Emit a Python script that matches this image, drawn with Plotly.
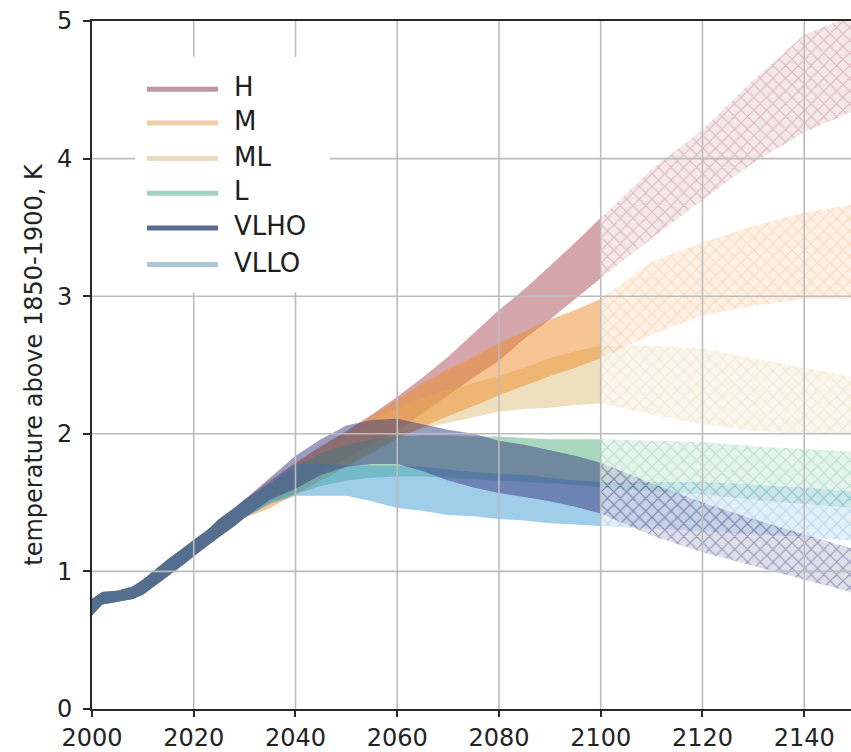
import plotly.graph_objects as go

# ---------------- data ----------------
HIST_YEARS = [2000, 2002, 2005, 2008, 2010, 2013, 2015, 2018, 2020, 2023, 2025, 2028, 2030]
HIST_LO = [0.68, 0.76, 0.78, 0.80, 0.83, 0.91, 0.97, 1.05, 1.11, 1.19, 1.25, 1.33, 1.39]
HIST_HI = [0.80, 0.85, 0.86, 0.89, 0.94, 1.03, 1.09, 1.17, 1.23, 1.31, 1.38, 1.46, 1.52]

PROJ_YEARS = [2035, 2040, 2045, 2050, 2055, 2060, 2065, 2070, 2075, 2080, 2085, 2090, 2095, 2100]
H_LO = [1.52, 1.62, 1.72, 1.82, 1.92, 2.02, 2.15, 2.28, 2.41, 2.53, 2.69, 2.83, 2.98, 3.13]
H_HI = [1.66, 1.79, 1.91, 2.02, 2.14, 2.27, 2.41, 2.56, 2.73, 2.90, 3.05, 3.22, 3.39, 3.57]
M_LO = [1.46, 1.56, 1.66, 1.76, 1.86, 1.96, 2.05, 2.13, 2.20, 2.28, 2.35, 2.42, 2.48, 2.55]
M_HI = [1.64, 1.78, 1.90, 2.01, 2.13, 2.25, 2.37, 2.47, 2.56, 2.66, 2.74, 2.83, 2.90, 2.98]
ML_LO = [1.50, 1.57, 1.66, 1.76, 1.88, 1.98, 2.04, 2.08, 2.12, 2.16, 2.18, 2.19, 2.21, 2.22]
ML_HI = [1.64, 1.77, 1.89, 1.99, 2.10, 2.19, 2.26, 2.32, 2.37, 2.42, 2.48, 2.55, 2.60, 2.64]
L_LO = [1.50, 1.56, 1.62, 1.66, 1.68, 1.69, 1.69, 1.68, 1.67, 1.66, 1.65, 1.64, 1.63, 1.61]
L_HI = [1.64, 1.76, 1.86, 1.92, 1.96, 1.98, 1.99, 1.99, 1.98, 1.98, 1.97, 1.96, 1.96, 1.96]
VLHO_LO = [1.52, 1.60, 1.70, 1.76, 1.78, 1.78, 1.73, 1.66, 1.61, 1.57, 1.54, 1.51, 1.47, 1.42]
VLHO_HI = [1.68, 1.84, 1.96, 2.06, 2.10, 2.11, 2.07, 2.03, 2.00, 1.95, 1.92, 1.88, 1.84, 1.79]
VLLO_LO = [1.49, 1.55, 1.55, 1.55, 1.51, 1.46, 1.44, 1.41, 1.40, 1.38, 1.37, 1.35, 1.34, 1.33]
VLLO_HI = [1.64, 1.78, 1.78, 1.77, 1.77, 1.77, 1.76, 1.74, 1.72, 1.71, 1.70, 1.68, 1.66, 1.65]

EXT_YEARS = [2100, 2110, 2120, 2130, 2140, 2150]
H_EXT_LO = [3.13, 3.42, 3.70, 3.97, 4.19, 4.35]
H_EXT_HI = [3.57, 3.92, 4.21, 4.57, 4.90, 5.05]
M_EXT_LO = [2.55, 2.72, 2.86, 2.93, 2.98, 2.98]
M_EXT_HI = [2.98, 3.25, 3.39, 3.51, 3.61, 3.67]
ML_EXT_LO = [2.22, 2.14, 2.07, 2.02, 2.00, 1.99]
ML_EXT_HI = [2.64, 2.64, 2.62, 2.55, 2.48, 2.41]
L_EXT_LO = [1.61, 1.58, 1.56, 1.52, 1.49, 1.46]
L_EXT_HI = [1.96, 1.95, 1.94, 1.91, 1.89, 1.87]
VLHO_EXT_LO = [1.42, 1.26, 1.14, 1.04, 0.94, 0.84]
VLHO_EXT_HI = [1.79, 1.64, 1.50, 1.38, 1.27, 1.16]
VLLO_EXT_LO = [1.33, 1.31, 1.29, 1.27, 1.25, 1.22]
VLLO_EXT_HI = [1.65, 1.65, 1.65, 1.63, 1.61, 1.58]

SCENARIOS = ["H", "M", "ML", "L", "VLHO", "VLLO"]
X_TICKS = [2000, 2020, 2040, 2060, 2080, 2100, 2120, 2140]
Y_TICKS = [0, 1, 2, 3, 4, 5]
Y_TITLE = "temperature above 1850-1900, K"

# ---------------- styling ----------------
BASE = {
    "H": (169, 77, 89),
    "M": (239, 140, 40),
    "ML": (221, 193, 125),
    "L": (81, 177, 125),
    "VLHO": (55, 58, 125),
    "VLLO": (65, 155, 209),
}
LEGEND_COL = {
    "H": "rgb(190,150,160)",
    "M": "rgb(242,205,172)",
    "ML": "rgb(233,219,193)",
    "L": "rgb(163,210,188)",
    "VLHO": "rgb(92,108,150)",
    "VLLO": "rgb(170,200,216)",
}
HATCH_FG = {"H": 0.3, "M": 0.22, "ML": 0.22, "L": 0.28, "VLHO": 0.42, "VLLO": 0.25}
HATCH_BG = {"H": 0.13, "M": 0.12, "ML": 0.15, "L": 0.15, "VLHO": 0.16, "VLLO": 0.15}

DATA = {
    "H": (H_LO, H_HI, H_EXT_LO, H_EXT_HI),
    "M": (M_LO, M_HI, M_EXT_LO, M_EXT_HI),
    "ML": (ML_LO, ML_HI, ML_EXT_LO, ML_EXT_HI),
    "L": (L_LO, L_HI, L_EXT_LO, L_EXT_HI),
    "VLHO": (VLHO_LO, VLHO_HI, VLHO_EXT_LO, VLHO_EXT_HI),
    "VLLO": (VLLO_LO, VLLO_HI, VLLO_EXT_LO, VLLO_EXT_HI),
}


def rgba(c, a):
    return "rgba(%d,%d,%d,%.3f)" % (c[0], c[1], c[2], a)


def polygon(xs, lo, hi):
    return list(xs) + list(xs[::-1]), list(lo) + list(hi[::-1])


fig = go.Figure()

# solid bands 2000-2100
for name in ["H", "ML", "M", "L", "VLLO", "VLHO"]:
    lo, hi, _, _ = DATA[name]
    xs = HIST_YEARS + PROJ_YEARS
    px_, py_ = polygon(xs, HIST_LO + lo, HIST_HI + hi)
    fig.add_trace(go.Scatter(
        x=px_, y=py_, mode="lines", fill="toself",
        fillcolor=rgba(BASE[name], 0.5), line=dict(width=0),
        hoverinfo="skip", showlegend=False, name=name))

# hatched extension bands 2100-2150
for name in ["H", "M", "ML", "L", "VLLO", "VLHO"]:
    _, _, elo, ehi = DATA[name]
    px_, py_ = polygon(EXT_YEARS, elo, ehi)
    c = BASE[name]
    fig.add_trace(go.Scatter(
        x=px_, y=py_, mode="lines", fill="toself",
        fillcolor=rgba(c, HATCH_BG[name]), line=dict(width=0),
        fillpattern=dict(shape="x", size=9, solidity=0.25,
                         bgcolor=rgba(c, HATCH_BG[name]),
                         fgcolor="rgb(%d,%d,%d)" % c,
                         fgopacity=HATCH_FG[name], fillmode="replace"),
        hoverinfo="skip", showlegend=False, name=name + " ext"))

# ---------------- layout ----------------
W, H = 851, 752
ML_, MR_, MT_, MB_ = 92, 0, 21, 36
PW, PH = W - ML_ - MR_, H - MT_ - MB_


def pxx(p):
    return (p - ML_) / PW


def pxy(p):
    return (H - MB_ - p) / PH


shapes = []
GRID = "rgb(188,188,188)"
for xv in X_TICKS[1:]:
    shapes.append(dict(type="line", xref="x", yref="paper", x0=xv, x1=xv, y0=0, y1=1,
                       line=dict(color=GRID, width=1.6), layer="above"))
for yv in Y_TICKS[1:-1]:
    shapes.append(dict(type="line", xref="paper", yref="y", x0=0, x1=1, y0=yv, y1=yv,
                       line=dict(color=GRID, width=1.6), layer="above"))

# legend box
shapes.append(dict(type="rect", xref="paper", yref="paper",
                   x0=pxx(135), x1=pxx(330), y0=pxy(295), y1=pxy(57),
                   fillcolor="white", line=dict(width=0), layer="above"))
rows = [90, 124, 160, 195, 230, 267]
annotations = []
for name, ry in zip(SCENARIOS, rows):
    shapes.append(dict(type="line", xref="paper", yref="paper",
                       x0=pxx(147), x1=pxx(218), y0=pxy(ry), y1=pxy(ry),
                       line=dict(color=LEGEND_COL[name], width=5), layer="above"))
    annotations.append(dict(xref="paper", yref="paper", x=pxx(232), y=pxy(ry - 2),
                            text=name, showarrow=False, xanchor="left", yanchor="middle",
                            font=dict(family="DejaVu Sans", size=26, color="rgb(30,30,30)")))

fig.update_layout(
    width=W, height=H, autosize=False,
    margin=dict(l=ML_, r=MR_, t=MT_, b=MB_, pad=0),
    paper_bgcolor="white", plot_bgcolor="white",
    font=dict(family="DejaVu Sans", size=24, color="rgb(35,35,35)"),
    shapes=shapes, annotations=annotations, showlegend=False,
)
fig.update_xaxes(
    range=[2000, 2149.2], tickvals=X_TICKS, ticktext=[str(v) for v in X_TICKS],
    showgrid=False, zeroline=False, showline=True, linecolor="rgb(40,40,40)", linewidth=2,
    mirror=True, ticks="outside", ticklen=6, tickwidth=2, tickcolor="rgb(40,40,40)",
    tickfont=dict(size=24),
)
fig.update_yaxes(
    range=[0, 5], tickvals=Y_TICKS, showgrid=False, zeroline=False, showline=True,
    linecolor="rgb(40,40,40)", linewidth=2, mirror=False, ticks="outside", ticklen=7,
    tickwidth=2, tickcolor="rgb(40,40,40)", tickfont=dict(size=24), ticklabelstandoff=6,
    title=dict(text=Y_TITLE, font=dict(size=24), standoff=8),
)

fig.write_html("out.html")
